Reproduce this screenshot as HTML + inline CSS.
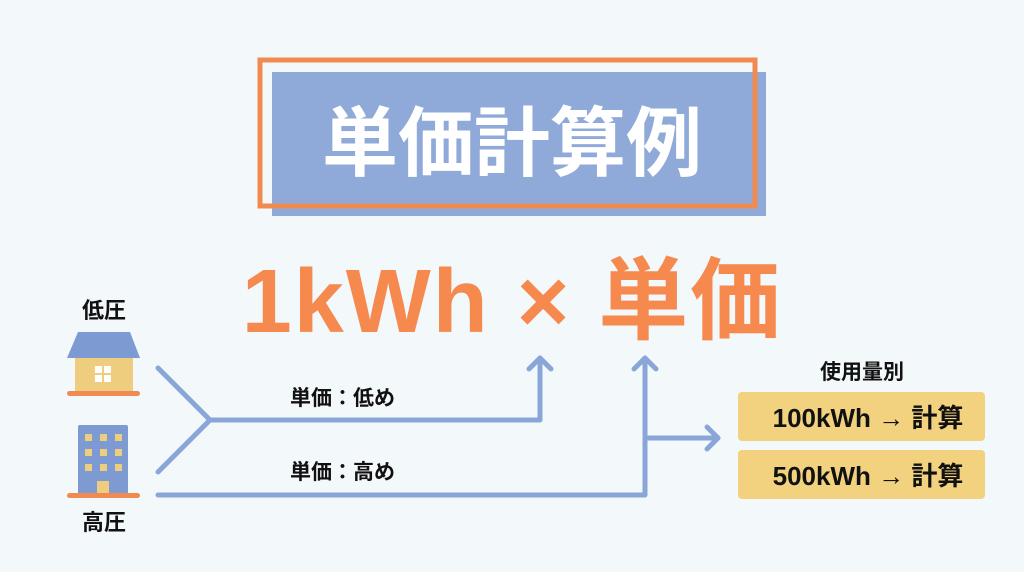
<!DOCTYPE html>
<html><head><meta charset="utf-8"><style>
html,body{margin:0;padding:0;background:#f3f8fb;}
svg{display:block}
text{font-family:"Liberation Sans","Noto Sans CJK JP",sans-serif;font-weight:bold}
</style></head><body>
<svg width="1024" height="572" viewBox="0 0 1024 572">
<rect width="1024" height="572" fill="#f3f8fb"/>
<rect x="272" y="72" width="494" height="144" fill="#8fa9d8"/>
<rect x="260" y="60" width="495" height="146" fill="none" stroke="#f08a50" stroke-width="5"/>
<text x="512" y="170" font-size="76" fill="#fff" text-anchor="middle">単価計算例</text>
<text x="512" y="332" font-size="90" fill="#f5894e" text-anchor="middle" letter-spacing="2">1kWh × 単価</text>
<text x="104" y="318" font-size="22" fill="#111" text-anchor="middle">低圧</text>
<text x="104" y="530" font-size="22" fill="#111" text-anchor="middle">高圧</text>
<polygon points="78,332 130,332 140,358 67,358" fill="#7e9ad3"/>
<rect x="75" y="358" width="58" height="33" fill="#efcd7f"/>
<rect x="95" y="366" width="7" height="7" fill="#fff"/><rect x="104" y="366" width="7" height="7" fill="#fff"/>
<rect x="95" y="375" width="7" height="7" fill="#fff"/><rect x="104" y="375" width="7" height="7" fill="#fff"/>
<rect x="67" y="391" width="73" height="5" rx="2.5" fill="#f08a50"/>
<rect x="78" y="425" width="50" height="70" rx="2" fill="#7e9ad3"/>
<g fill="#efcd7f">
<rect x="85" y="434" width="7" height="7"/><rect x="100" y="434" width="7" height="7"/><rect x="115" y="434" width="7" height="7"/>
<rect x="85" y="449" width="7" height="7"/><rect x="100" y="449" width="7" height="7"/><rect x="115" y="449" width="7" height="7"/>
<rect x="85" y="464" width="7" height="7"/><rect x="100" y="464" width="7" height="7"/><rect x="115" y="464" width="7" height="7"/>
<rect x="97" y="481" width="12" height="14"/></g>
<rect x="67" y="493" width="73" height="5" rx="2.5" fill="#f08a50"/>
<g fill="none" stroke="#8aa6d8" stroke-width="5" stroke-linecap="round" stroke-linejoin="round">
<polyline points="158,368 210,420 158,472"/>
<polyline points="210,420 540,420 540,358"/>
<polyline points="529,369 540,358 551,369"/>
<polyline points="158,495 645,495 645,358"/>
<polyline points="634,369 645,358 656,369"/>
<polyline points="645,438 718,438"/>
<polyline points="707,427 718,438 707,449"/>
</g>
<text x="290" y="405" font-size="21" fill="#111">単価：低め</text>
<text x="290" y="479" font-size="21" fill="#111">単価：高め</text>
<text x="862" y="379" font-size="21" fill="#111" text-anchor="middle">使用量別</text>
<rect x="738" y="392" width="247" height="49" rx="4" fill="#f2d27e"/>
<rect x="738" y="450" width="247" height="49" rx="4" fill="#f2d27e"/>
<text x="868" y="427" font-size="26" fill="#111" text-anchor="middle">100kWh → 計算</text>
<text x="868" y="485" font-size="26" fill="#111" text-anchor="middle">500kWh → 計算</text>
</svg>
</body></html>
